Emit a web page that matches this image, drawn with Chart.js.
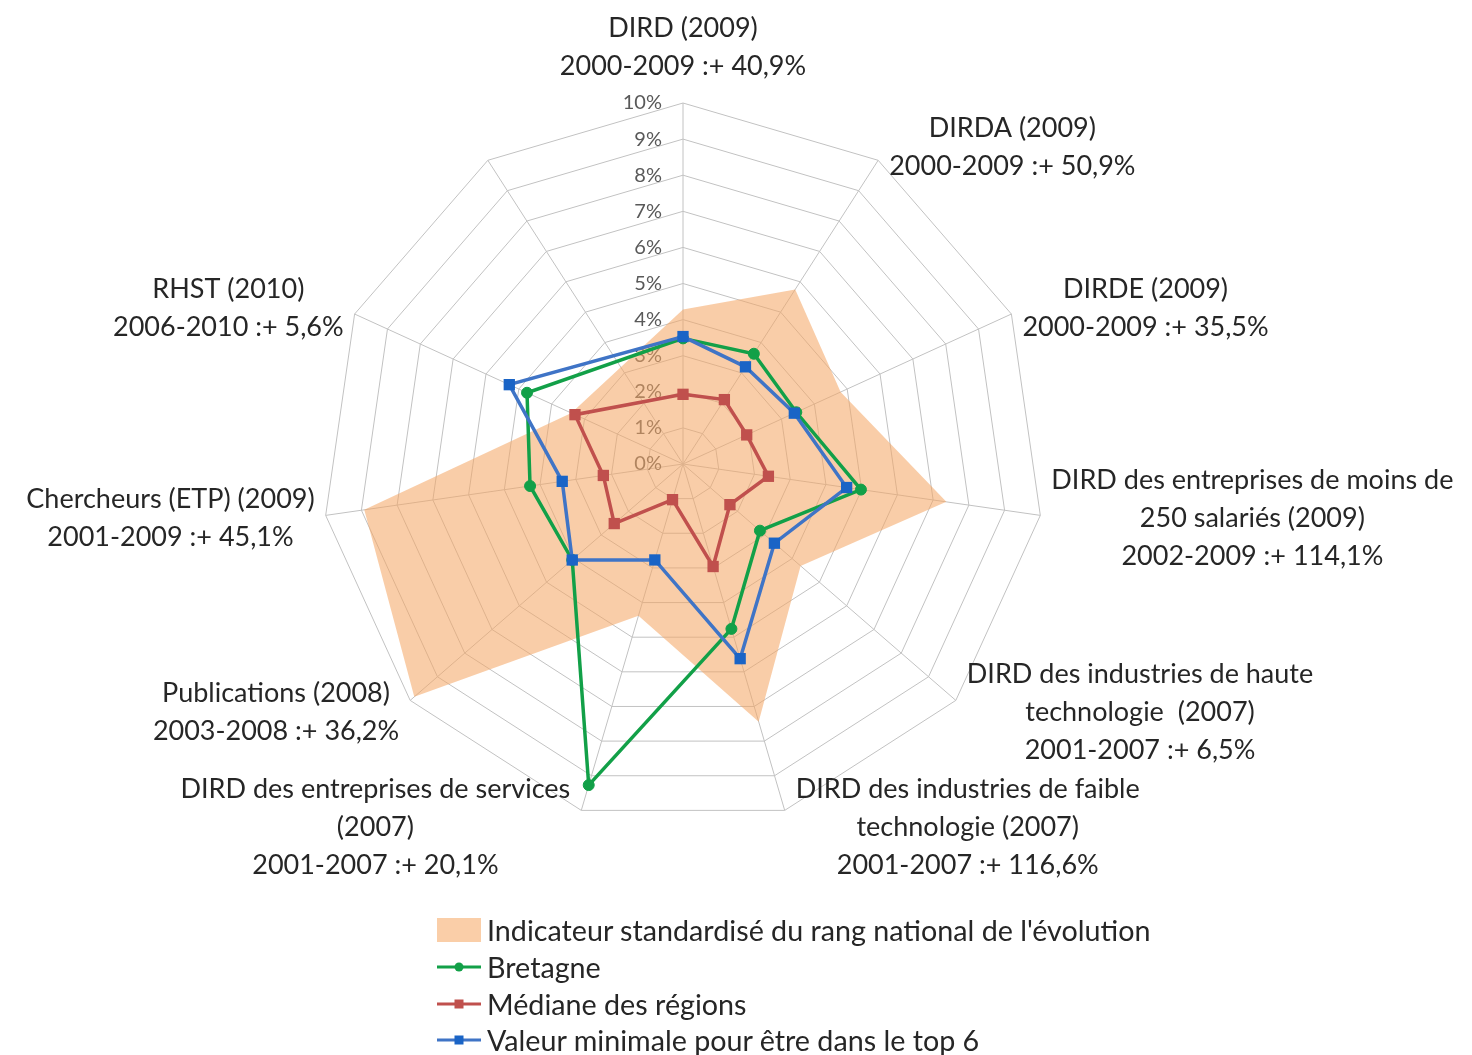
<!DOCTYPE html>
<html>
<head>
<meta charset="utf-8">
<script src="https://cdn.jsdelivr.net/npm/chart.js@4.4.1/dist/chart.umd.min.js"></script>
<style>
html,body{margin:0;padding:0;background:#fff;}
#wrap{position:relative;width:1472px;height:1055px;overflow:hidden;}
#c{position:absolute;left:0;top:0;}
#legend{position:absolute;left:437px;top:912px;font-family:Lato,"Open Sans",sans-serif;font-size:28.7px;color:#262626;}
.row{height:36.7px;display:flex;align-items:center;white-space:nowrap;}
.sym{width:44px;height:26px;margin-right:6px;flex:none;}
</style>
</head>
<body>
<div id="wrap">
<canvas id="c" width="1472" height="1055"></canvas>
<div id="legend"></div>
</div>
<script>
// ---- data ----
const categories = [
  ["DIRD (2009)", "2000-2009 :+ 40,9%"],
  ["DIRDA (2009)", "2000-2009 :+ 50,9%"],
  ["DIRDE (2009)", "2000-2009 :+ 35,5%"],
  ["DIRD des entreprises de moins de", "250 salariés (2009)", "2002-2009 :+ 114,1%"],
  ["DIRD des industries de haute", "technologie  (2007)", "2001-2007 :+ 6,5%"],
  ["DIRD des industries de faible", "technologie (2007)", "2001-2007 :+ 116,6%"],
  ["DIRD des entreprises de services", "(2007)", "2001-2007 :+ 20,1%"],
  ["Publications (2008)", "2003-2008 :+ 36,2%"],
  ["Chercheurs (ETP) (2009)", "2001-2009 :+ 45,1%"],
  ["RHST (2010)", "2006-2010 :+ 5,6%"],
  [""]
];
const seriesNames = [
  "Indicateur standardisé du rang national de l'évolution",
  "Bretagne",
  "Médiane des régions",
  "Valeur minimale pour être dans le top 6"
];
const indicateur = [4.28, 5.75, 4.8, 7.37, 4.31, 7.44, 4.38, 9.85, 8.92, 3.4, null];
const bretagne   = [3.48, 3.63, 3.45, 4.98, 2.82, 4.76, 9.27, 4.06, 4.28, 4.75, null];
const mediane    = [1.93, 2.12, 1.94, 2.39, 1.72, 2.96, 1.03, 2.52, 2.23, 3.29, null];
const top6       = [3.53, 3.2, 3.39, 4.58, 3.35, 5.62, 2.77, 4.06, 3.38, 5.29, null];
const axisMin = 0, axisMax = 10, axisStep = 1, tickSuffix = "%";

// ---- style ----
const C_FILL = "rgba(245,166,100,0.56)";
const C_FILL_LEG = "rgb(250,206,168)";
const C_GREEN = "#12A048", C_RED = "#C0504D", C_BLUE_L = "#3F74C6", C_BLUE_P = "#1A64C6";
const FONT = "Lato, 'Open Sans', sans-serif";

const tickPlugin = {
  id: 'tickText',
  beforeDatasetsDraw(chart) {
    const s = chart.scales.r, ctx = chart.ctx;
    ctx.save();
    ctx.font = "20px " + FONT;
    ctx.fillStyle = "#595959";
    ctx.textAlign = "right";
    ctx.textBaseline = "middle";
    s.ticks.forEach(t => {
      const d = s.getDistanceFromCenterForValue(t.value);
      ctx.fillText(t.value + tickSuffix, s.xCenter - 21, s.yCenter - d);
    });
    ctx.restore();
  }
};

const labelPlugin = {
  id: 'axisLabels',
  afterDraw(chart) {
    const s = chart.scales.r, ctx = chart.ctx;
    ctx.save();
    ctx.font = "27px " + FONT;
    ctx.fillStyle = "#262626";
    ctx.textBaseline = "middle";
    ctx.textAlign = "center";
    const lh = 38;
    categories.forEach((lines, i) => {
      if (!lines.length || !lines[0]) return;
      const p = s.getPointPosition(i, s.drawingArea);
      const ang = s.getIndexAngle(i);
      const sn = Math.sin(ang), cs = Math.cos(ang);
      const w = Math.max(...lines.map(t => ctx.measureText(t).width));
      const h = lines.length * lh;
      let cx, cy;
      if (Math.abs(sn) < 1e-6) { cx = p.x; cy = p.y - 18 - h / 2; }
      else {
        cx = sn > 0 ? p.x + 11 + w / 2 : p.x - 11 - w / 2;
        cy = p.y - 17 * cs + 1;
      }
      lines.forEach((t, k) => ctx.fillText(t, cx, cy - h / 2 + lh / 2 + k * lh));
    });
    ctx.restore();
  }
};

const chart = new Chart(document.getElementById('c'), {
  type: 'radar',
  data: {
    labels: categories,
    datasets: [
      { label: seriesNames[0], data: indicateur, backgroundColor: C_FILL, borderWidth: 0,
        borderColor: 'rgba(0,0,0,0)', pointRadius: 0, fill: 'origin', order: 4 },
      { label: seriesNames[1], data: bretagne, borderColor: C_GREEN, backgroundColor: C_GREEN,
        borderWidth: 3.5, pointStyle: 'circle', pointRadius: 5.5, pointBackgroundColor: C_GREEN,
        pointBorderColor: C_GREEN, pointBorderWidth: 1, fill: false, order: 3 },
      { label: seriesNames[2], data: mediane, borderColor: C_RED, backgroundColor: C_RED,
        borderWidth: 3.5, pointStyle: 'rect', pointRadius: 8, pointBackgroundColor: C_RED,
        pointBorderColor: C_RED, pointBorderWidth: 0, fill: false, order: 2 },
      { label: seriesNames[3], data: top6, borderColor: C_BLUE_L, backgroundColor: C_BLUE_P,
        borderWidth: 3.5, pointStyle: 'rect', pointRadius: 8, pointBackgroundColor: C_BLUE_P,
        pointBorderColor: C_BLUE_P, pointBorderWidth: 0, fill: false, order: 1 }
    ]
  },
  options: {
    responsive: false,
    animation: false,
    events: [],
    spanGaps: true,
    elements: { line: { tension: 0 } },
    plugins: { legend: { display: false }, tooltip: { enabled: false } },
    scales: {
      r: {
        min: axisMin, max: axisMax,
        ticks: { stepSize: axisStep, display: false },
        grid: { color: '#C2C2C2', lineWidth: 1 },
        angleLines: { color: '#C2C2C2', lineWidth: 1 },
        pointLabels: { display: false },
        afterFit(scale) {
          scale.xCenter = 683;
          scale.yCenter = 464;
          scale.drawingArea = 361;
        }
      }
    }
  },
  plugins: [tickPlugin, labelPlugin]
});

// ---- HTML legend ----
const legend = document.getElementById('legend');
const syms = [
  `<svg class="sym" viewBox="0 0 44 26"><rect x="0" y="1" width="44" height="24" fill="${C_FILL_LEG}"/></svg>`,
  `<svg class="sym" viewBox="0 0 44 26"><line x1="0" y1="13" x2="44" y2="13" stroke="${C_GREEN}" stroke-width="3"/><circle cx="22" cy="13" r="4.5" fill="${C_GREEN}"/></svg>`,
  `<svg class="sym" viewBox="0 0 44 26"><line x1="0" y1="13" x2="44" y2="13" stroke="${C_RED}" stroke-width="3"/><rect x="17.5" y="8.5" width="9" height="9" fill="${C_RED}"/></svg>`,
  `<svg class="sym" viewBox="0 0 44 26"><line x1="0" y1="13" x2="44" y2="13" stroke="${C_BLUE_L}" stroke-width="3"/><rect x="17.5" y="8.5" width="9" height="9" fill="${C_BLUE_P}"/></svg>`
];
seriesNames.forEach((n, i) => {
  const r = document.createElement('div');
  r.className = 'row';
  r.innerHTML = syms[i] + '<span></span>';
  r.querySelector('span').textContent = n;
  legend.appendChild(r);
});
</script>
</body>
</html>
